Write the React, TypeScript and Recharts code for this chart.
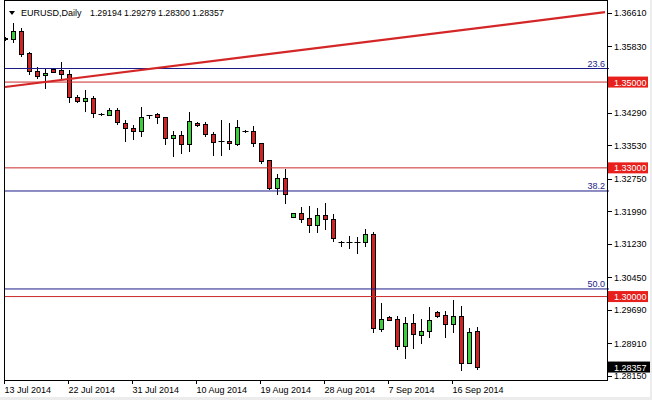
import React from 'react';
import { ComposedChart, Bar, Line, XAxis, YAxis, ReferenceLine } from 'recharts';

// EURUSD daily bars, 13 Jul - 19 Sep 2014 (MT4 style, Sunday bars included)
const dates = [
  '13 Jul 2014', '14 Jul 2014', '15 Jul 2014', '16 Jul 2014', '17 Jul 2014', '18 Jul 2014',
  '20 Jul 2014', '21 Jul 2014', '22 Jul 2014', '23 Jul 2014', '24 Jul 2014', '25 Jul 2014',
  '27 Jul 2014', '28 Jul 2014', '29 Jul 2014', '30 Jul 2014', '31 Jul 2014', '1 Aug 2014',
  '3 Aug 2014', '4 Aug 2014', '5 Aug 2014', '6 Aug 2014', '7 Aug 2014', '8 Aug 2014',
  '10 Aug 2014', '11 Aug 2014', '12 Aug 2014', '13 Aug 2014', '14 Aug 2014', '15 Aug 2014',
  '17 Aug 2014', '18 Aug 2014', '19 Aug 2014', '20 Aug 2014', '21 Aug 2014', '22 Aug 2014',
  '24 Aug 2014', '25 Aug 2014', '26 Aug 2014', '27 Aug 2014', '28 Aug 2014', '29 Aug 2014',
  '31 Aug 2014', '1 Sep 2014', '2 Sep 2014', '3 Sep 2014', '4 Sep 2014', '5 Sep 2014',
  '7 Sep 2014', '8 Sep 2014', '9 Sep 2014', '10 Sep 2014', '11 Sep 2014', '12 Sep 2014',
  '14 Sep 2014', '15 Sep 2014', '16 Sep 2014', '17 Sep 2014', '18 Sep 2014', '19 Sep 2014',
];

const opens = [
  1.36020, 1.36004, 1.36190, 1.35678, 1.35258, 1.35165, 1.35305, 1.35281, 1.35188, 1.34652,
  1.34559, 1.34629, 1.34256, 1.34232, 1.34349, 1.34046, 1.33929, 1.33859, 1.34232, 1.34256,
  1.34186, 1.33696, 1.33766, 1.33556, 1.34046, 1.34022, 1.33789, 1.33626, 1.33626, 1.33556,
  1.33859, 1.33859, 1.33580, 1.33183, 1.32531, 1.32764, 1.31854, 1.31948, 1.31831, 1.31668,
  1.31901, 1.31808, 1.31272, 1.31272, 1.31272, 1.31272, 1.31459, 1.29244, 1.29524, 1.29477,
  1.28848, 1.29384, 1.29104, 1.29198, 1.29641, 1.29571, 1.29361, 1.29547, 1.28451, 1.29194,
];
const highs = [
  1.36050, 1.36377, 1.36260, 1.35690, 1.35351, 1.35328, 1.35310, 1.35468, 1.35281, 1.34699,
  1.34815, 1.34675, 1.34279, 1.34396, 1.34396, 1.34116, 1.33999, 1.34419, 1.34240, 1.34279,
  1.34190, 1.33859, 1.33859, 1.34302, 1.34060, 1.34069, 1.33836, 1.34116, 1.34046, 1.34116,
  1.33882, 1.33976, 1.33590, 1.33190, 1.32857, 1.32974, 1.31955, 1.32088, 1.32111, 1.32064,
  1.32181, 1.31924, 1.31295, 1.31412, 1.31389, 1.31575, 1.31505, 1.29850, 1.29547, 1.29547,
  1.29524, 1.29594, 1.29477, 1.29757, 1.29664, 1.29664, 1.29920, 1.29780, 1.29268, 1.29279,
];
const lows = [
  1.35980, 1.35934, 1.35608, 1.35188, 1.35095, 1.34862, 1.35225, 1.35071, 1.34535, 1.34535,
  1.34326, 1.34186, 1.34232, 1.34225, 1.34022, 1.33626, 1.33673, 1.33742, 1.34162, 1.34046,
  1.33556, 1.33277, 1.33347, 1.33393, 1.33976, 1.33742, 1.33300, 1.33300, 1.33440, 1.33533,
  1.33836, 1.33510, 1.33113, 1.32508, 1.32391, 1.32181, 1.31850, 1.31738, 1.31505, 1.31505,
  1.31575, 1.31295, 1.31179, 1.31132, 1.31015, 1.31179, 1.29174, 1.29198, 1.29450, 1.28778,
  1.28568, 1.28801, 1.28917, 1.29058, 1.29524, 1.29058, 1.29174, 1.28288, 1.28440, 1.28300,
];
const closes = [
  1.36004, 1.36190, 1.35654, 1.35258, 1.35141, 1.35211, 1.35235, 1.35188, 1.34652, 1.34559,
  1.34629, 1.34279, 1.34250, 1.34349, 1.34069, 1.33929, 1.33859, 1.34186, 1.34225, 1.34186,
  1.33696, 1.33766, 1.33556, 1.34092, 1.33999, 1.33789, 1.33603, 1.33620, 1.33580, 1.33952,
  1.33850, 1.33580, 1.33160, 1.32531, 1.32764, 1.32391, 1.31948, 1.31808, 1.31668, 1.31901,
  1.31808, 1.31365, 1.31265, 1.31265, 1.31265, 1.31459, 1.29268, 1.29477, 1.29454, 1.28848,
  1.29384, 1.29128, 1.29198, 1.29454, 1.29547, 1.29361, 1.29547, 1.28451, 1.29174, 1.28357,
];

const tickDates = ['13 Jul 2014', '22 Jul 2014', '31 Jul 2014', '10 Aug 2014', '19 Aug 2014', '28 Aug 2014', '7 Sep 2014', '16 Sep 2014'];
const priceTicks = [1.3661, 1.3583, 1.3429, 1.3353, 1.3275, 1.3199, 1.3123, 1.3045, 1.2969, 1.2891, 1.2815];
const redLevels = [1.35, 1.33, 1.3];
const fibLabels = ['23.6', '38.2', '50.0'];
const fibPrices = [1.35316, 1.32461, 1.30177];
const trendStart = 1.34885;
const trendEnd = 1.36629;
const lastPrice = 1.28357;
const titleValues = ['1.29194', '1.29279', '1.28300', '1.28357'];

const SLOTS = 76; // bars + empty right shift
const FONT = '"Liberation Sans", Arial, sans-serif';
const RED = '#cc2a2a';
const NAVY = '#1c1c88';

const Candle = (props: any) => {
  const { x, y, width, height, payload } = props;
  if (payload == null || payload.open == null || !height) return null;
  const { open, high, low, close } = payload;
  const k = height / (high - low);
  const py = (p: number) => y + (high - p) * k;
  const cx = Math.floor(x + width / 2) + 0.5;
  const top = Math.round(py(Math.max(open, close)));
  const bot = Math.round(py(Math.min(open, close)));
  const up = close > open;
  return (
    <g>
      <line x1={cx} x2={cx} y1={Math.round(py(high))} y2={Math.round(py(low)) + 1} stroke="#000" strokeWidth={1} />
      {bot - top < 1 ? (
        <line x1={cx - 3} x2={cx + 3} y1={top + 0.5} y2={top + 0.5} stroke="#000" strokeWidth={1} />
      ) : (
        <rect x={cx - 2} y={top + 0.5} width={4} height={bot - top} fill={up ? '#3ccf3c' : '#cf2424'} stroke="#000" strokeWidth={1} />
      )}
    </g>
  );
};

const PriceTag = (props: any) => {
  const { viewBox, text, bg, w } = props;
  if (!viewBox) return null;
  const x = viewBox.x + viewBox.width - 1;
  const y = viewBox.y;
  return (
    <g>
      <rect x={x} y={y - 5.5} width={w} height={11} fill={bg} />
      <text x={x + 6} y={y + 3.5} fill="#fff" fontSize={9} fontFamily={FONT}>{text}</text>
    </g>
  );
};

const FibTag = (props: any) => {
  const { viewBox, text } = props;
  if (!viewBox) return null;
  return (
    <text x={viewBox.x + viewBox.width - 4} y={viewBox.y - 2} textAnchor="end" fill={NAVY} fontSize={9} fontFamily={FONT}>
      {text}
    </text>
  );
};

const DateTick = (props: any) => {
  const { x, y, payload } = props;
  const px = Math.floor(x) - 0.5;
  return (
    <g>
      <line x1={px} x2={px} y1={y} y2={y + 4} stroke="#000" />
      <text x={px} y={y + 13} fontSize={9} fontFamily={FONT} fill="#000">{dates[payload.value]}</text>
    </g>
  );
};

const PriceTick = (props: any) => {
  const { x, y, payload } = props;
  const py = Math.round(y) + 0.5;
  return (
    <g>
      <line x1={x - 1} x2={x + 3} y1={py} y2={py} stroke="#000" />
      <text x={x + 5} y={y + 3.5} fontSize={9} fontFamily={FONT} fill="#000">{payload.value.toFixed(5)}</text>
    </g>
  );
};

export default function App() {
  const rows = Array.from({ length: SLOTS }, (_, i) => ({
    i,
    open: i < opens.length ? opens[i] : null,
    high: i < opens.length ? highs[i] : null,
    low: i < opens.length ? lows[i] : null,
    close: i < opens.length ? closes[i] : null,
    range: i < opens.length ? [lows[i], highs[i]] : null,
    trend: i === 0 ? trendStart : i === SLOTS - 1 ? trendEnd : null,
  }));
  const tickIdx = tickDates.map((d) => dates.indexOf(d));

  return (
    <div style={{ position: 'absolute', left: 0, top: 0, width: 652, height: 400, background: '#ececec', overflow: 'hidden' }}>
      <div style={{ position: 'absolute', left: 0, top: 0, width: 650, height: 397, background: '#fff' }} />
      <div style={{ position: 'absolute', left: 0, top: 0 }}>
        <ComposedChart width={652} height={400} data={rows} margin={{ top: 0, right: 0, bottom: 0, left: 1 }} barCategoryGap={0} barGap={0}>
          <XAxis
            dataKey="i"
            type="category"
            ticks={tickIdx}
            interval={0}
            height={20}
            axisLine={false}
            tickLine={false}
            tickSize={0}
            tickMargin={0}
            tick={<DateTick />}
          />
          <YAxis
            orientation="right"
            width={43}
            type="number"
            domain={[1.28055, 1.36913]}
            allowDataOverflow
            ticks={priceTicks}
            interval={0}
            axisLine={false}
            tickLine={false}
            tickSize={0}
            tickMargin={0}
            tick={<PriceTick />}
          />
          {fibPrices.map((p, k) => (
            <ReferenceLine key={'f' + k} y={p} stroke={NAVY} strokeWidth={1} label={<FibTag text={fibLabels[k]} />} />
          ))}
          {redLevels.map((p) => (
            <ReferenceLine key={'r' + p} y={p} stroke={RED} strokeWidth={1} label={<PriceTag text={p.toFixed(5)} bg="#e8201c" w={40} />} />
          ))}
          <ReferenceLine y={lastPrice} stroke="none" strokeOpacity={0} label={<PriceTag text={lastPrice.toFixed(5)} bg="#000" w={42} />} />
          <Line dataKey="trend" stroke="#d42626" strokeWidth={2.2} dot={false} connectNulls isAnimationActive={false} />
          <Bar dataKey="range" shape={<Candle />} isAnimationActive={false} />
        </ComposedChart>
      </div>
      {/* chart frame */}
      <div style={{ position: 'absolute', left: 0, top: 0, width: 4, height: 380, background: '#fff' }} />
      <div style={{ position: 'absolute', left: 4, top: 0, width: 604, height: 381, boxSizing: 'border-box', border: '1px solid #000', pointerEvents: 'none' }} />
      <svg width={652} height={20} style={{ position: 'absolute', left: 0, top: 0 }}>
        <path d="M9 11 L15 11 L12 15 Z" fill="#000" />
        <text x={21} y={16} fontSize={9} fontFamily={FONT} fill="#000">EURUSD,Daily</text>
        {titleValues.map((v, k) => (
          <text key={v + k} x={90 + k * 34} y={16} fontSize={8.8} fontFamily={FONT} fill="#000">{v}</text>
        ))}
      </svg>
    </div>
  );
}
